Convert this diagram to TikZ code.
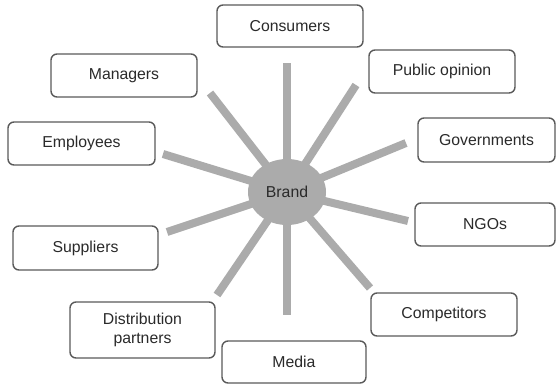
\documentclass[tikz,border=0pt]{standalone}
\usepackage{fontspec}
\setmainfont{Liberation Sans}
\usetikzlibrary{shapes.geometric}
\definecolor{spokegray}{HTML}{ABABAB}
\definecolor{boxline}{HTML}{5A5A5A}
\definecolor{txt}{HTML}{2A2A2A}
\begin{document}
\begin{tikzpicture}[x=1pt,y=-1pt,
  box/.style={draw=boxline, line width=1.4pt, rounded corners=6pt, fill=white,
    minimum width=#1, inner sep=0pt, align=center, text=txt,
    font=\fontsize{15.8}{19}\selectfont},
  box/.default=146pt,
  spoke/.style={draw=spokegray, line width=8pt}]
\useasboundingbox (0,0) rectangle (556,386);
\fill[white] (0,0) rectangle (556,386);
\coordinate (c) at (287,192);
% spoke ends
\coordinate (eCon) at (287,63);
\coordinate (eMan) at (210,93);
\coordinate (eEmp) at (163,154);
\coordinate (ePub) at (356,85);
\coordinate (eGov) at (406,143);
\coordinate (eSup) at (167,232);
\coordinate (eDis) at (217,295);
\coordinate (eMed) at (287,315);
\coordinate (eNGO) at (408,221);
\coordinate (eCom) at (370,288);
\foreach \e in {eCon,eMan,eEmp,ePub,eGov,eSup,eDis,eMed,eNGO,eCom}
  \draw[spoke] (c) -- (\e);
\node[ellipse, fill=spokegray, minimum width=78pt, minimum height=66pt, inner sep=0pt,
  text=txt, font=\fontsize{15.8}{19}\selectfont] (brand) at (c) {Brand};
% boxes
\node[box, minimum height=42pt] (consumers) at (290,26) {Consumers};
\node[box, minimum height=43pt] (managers) at (124,75.5) {Managers};
\node[box=147pt, minimum height=43pt] (employees) at (81.5,143.5) {Employees};
\node[box, minimum height=43pt] (public) at (442,71.5) {Public opinion};
\node[box=137pt, minimum height=44pt] (govern) at (486.5,140) {Governments};
\node[box=145pt, minimum height=44pt] (suppliers) at (85.5,248) {Suppliers};
\node[box=145pt, minimum height=56pt] (distrib) at (142.5,330) {Distribution\\partners};
\node[box=144pt, minimum height=42pt] (media) at (294,362) {Media};
\node[box=140pt, minimum height=43pt] (ngos) at (485,224.5) {NGOs};
\node[box, minimum height=43pt] (competitors) at (444,314.5) {Competitors};
\end{tikzpicture}
\end{document}
